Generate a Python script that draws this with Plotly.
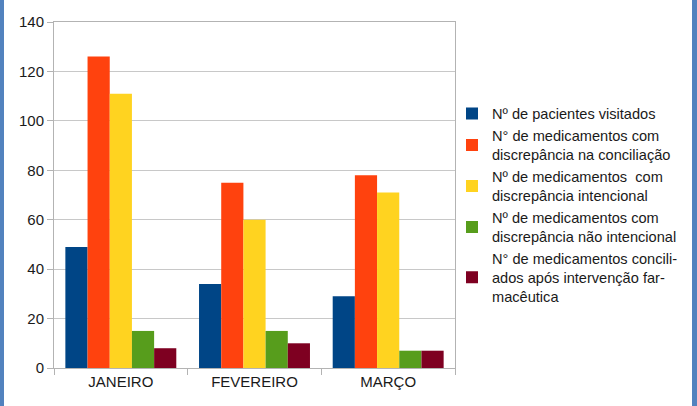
import plotly.graph_objects as go

categories = ["JANEIRO", "FEVEREIRO", "MARÇO"]
series_names = [
    "Nº de pacientes visitados",
    "N° de medicamentos com<br>discrepância na conciliação",
    "Nº de medicamentos  com<br>discrepância intencional",
    "Nº de medicamentos com<br>discrepância não intencional",
    "N° de medicamentos concili-<br>ados após intervenção far-<br>macêutica",
]
pacientes = [49, 34, 29]
disc_conciliacao = [126, 75, 78]
disc_intencional = [111, 60, 71]
disc_nao_intencional = [15, 15, 7]
conciliados = [8, 10, 7]
series_values = [pacientes, disc_conciliacao, disc_intencional, disc_nao_intencional, conciliados]
colors = ["#004586", "#ff420e", "#ffd320", "#579d1c", "#7e0021"]
y_ticks = [0, 20, 40, 60, 80, 100, 120, 140]

W, H = 697, 406
L, R, T, B = 54, 242, 22, 38
PW, PH = W - L - R, H - T - B

fig = go.Figure()
for name, vals, c in zip(series_names, series_values, colors):
    fig.add_trace(go.Bar(x=categories, y=vals, name=name, marker_color=c,
                         marker_line_width=0))

axis_color = "#b3b3b3"
fig.update_layout(
    width=W, height=H,
    margin=dict(l=L, r=R, t=T, b=B, pad=0, autoexpand=False),
    paper_bgcolor="white", plot_bgcolor="white",
    barmode="group", bargap=0.17, bargroupgap=0,
    font=dict(family="Liberation Sans, Arial, sans-serif", size=15, color="#1a1a1a"),
    showlegend=True,
    legend=dict(x=(452 - L) / PW, xanchor="left", y=(H - B - 205) / PH, yanchor="middle",
                font=dict(size=14.6, color="#1a1a1a"), itemwidth=30,
                tracegroupgap=2, bgcolor="rgba(0,0,0,0)"),
    xaxis=dict(showline=True, linecolor=axis_color, linewidth=1, mirror=True,
               ticks="outside", ticklen=6, tickcolor=axis_color, tickson="boundaries",
               tickfont=dict(size=15), showgrid=False),
    yaxis=dict(range=[0, 140], tickvals=y_ticks, showline=True, linecolor=axis_color,
               linewidth=1, mirror=True, ticks="outside", ticklen=6, tickcolor=axis_color,
               showgrid=True, gridcolor="#c8c8c8", gridwidth=1, zeroline=False,
               tickfont=dict(size=15)),
)

border = "#5282be"
fig.add_shape(type="rect", xref="paper", yref="paper", xsizemode="pixel", ysizemode="pixel",
              xanchor=0, yanchor=0, x0=-L, x1=-L + 4, y0=-B, y1=H - B,
              fillcolor=border, line_width=0, layer="above")
fig.add_shape(type="rect", xref="paper", yref="paper", xsizemode="pixel", ysizemode="pixel",
              xanchor=1, yanchor=0, x0=R - 5, x1=R, y0=-B, y1=H - B,
              fillcolor=border, line_width=0, layer="above")

fig.write_html("out.html")
